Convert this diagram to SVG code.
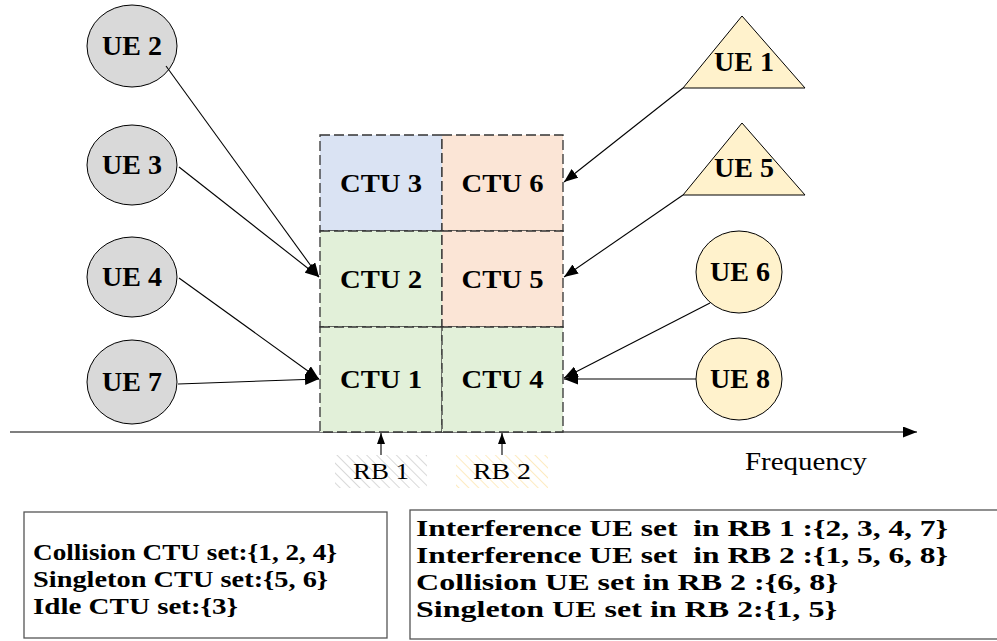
<svg xmlns="http://www.w3.org/2000/svg" width="997" height="641" viewBox="0 0 997 641">
<defs>
<marker id="arr" markerUnits="userSpaceOnUse" markerWidth="15" markerHeight="11" refX="14" refY="5.5" orient="auto">
<path d="M0,0 L14,5.5 L0,11 z" fill="#000"/>
</marker>
<marker id="arrS" markerUnits="userSpaceOnUse" markerWidth="12" markerHeight="10" refX="11" refY="4" orient="auto">
<path d="M0,0 L11,4 L0,8 z" fill="#000"/>
</marker>
<pattern id="hatchGray" patternUnits="userSpaceOnUse" width="7" height="7" patternTransform="rotate(-45)">
<rect width="7" height="7" fill="#fff"/>
<line x1="0" y1="0" x2="0" y2="7" stroke="#c9c9c9" stroke-width="1.4"/>
</pattern>
<pattern id="hatchYel" patternUnits="userSpaceOnUse" width="7" height="7" patternTransform="rotate(-45)">
<rect width="7" height="7" fill="#fff"/>
<line x1="0" y1="0" x2="0" y2="7" stroke="#fde3a6" stroke-width="1.4"/>
</pattern>
</defs>
<style>
text{font-family:Liberation Serif,DejaVu Serif,serif}
.cell{stroke:#333;stroke-width:1.3;stroke-dasharray:10 4}
.blue{fill:#dae3f3}
.peach{fill:#fbe5d6}
.green{fill:#e2f0d9}
.gray{fill:#d9d9d9;stroke:#000;stroke-width:1}
.yel{fill:#fff2cc;stroke:#000;stroke-width:1}
.lbl{font-weight:bold;font-size:28px;text-anchor:middle;fill:#000}
.ctu{font-weight:bold;font-size:26px;text-anchor:middle;fill:#000}
.reg{font-size:24px;fill:#000}
.box{fill:#fff;stroke:#555;stroke-width:1.3}
.set{font-weight:bold;font-size:24px;fill:#000}
.con{stroke:#000;stroke-width:1.1;fill:none}
</style>
<rect width="997" height="641" fill="#fff"/>

<g id="axis">
<line x1="10" y1="432" x2="917" y2="432" class="con" marker-end="url(#arr)"/>
<text x="745" y="470" class="reg" style="font-size:25px" textLength="122" lengthAdjust="spacingAndGlyphs">Frequency</text>
</g>

<g id="ctu3"><rect x="320" y="135" width="122" height="96" class="cell blue"/><text x="381" y="192" class="ctu" textLength="82" lengthAdjust="spacingAndGlyphs">CTU 3</text></g>
<g id="ctu6"><rect x="442" y="135" width="121" height="96" class="cell peach"/><text x="502.5" y="192" class="ctu" textLength="82" lengthAdjust="spacingAndGlyphs">CTU 6</text></g>
<g id="ctu2"><rect x="320" y="231" width="122" height="96" class="cell green"/><text x="381" y="288" class="ctu" textLength="82" lengthAdjust="spacingAndGlyphs">CTU 2</text></g>
<g id="ctu5"><rect x="442" y="231" width="121" height="96" class="cell peach"/><text x="502.5" y="288" class="ctu" textLength="82" lengthAdjust="spacingAndGlyphs">CTU 5</text></g>
<g id="ctu1"><rect x="320" y="327" width="122" height="105" class="cell green"/><text x="381" y="388" class="ctu" textLength="82" lengthAdjust="spacingAndGlyphs">CTU 1</text></g>
<g id="ctu4"><rect x="442" y="327" width="121" height="105" class="cell green"/><text x="502.5" y="388" class="ctu" textLength="82" lengthAdjust="spacingAndGlyphs">CTU 4</text></g>

<g id="rb1"><rect x="335" y="455" width="92" height="33" fill="url(#hatchGray)"/><text x="381" y="479" class="reg" text-anchor="middle" textLength="56" lengthAdjust="spacingAndGlyphs">RB 1</text></g>
<g id="rb2"><rect x="456" y="455" width="92" height="33" fill="url(#hatchYel)"/><text x="502" y="479" class="reg" text-anchor="middle" textLength="58" lengthAdjust="spacingAndGlyphs">RB 2</text></g>

<g id="ue2"><ellipse cx="132" cy="46" rx="45" ry="41" class="gray"/><text x="132" y="55" class="lbl">UE 2</text></g>
<g id="ue3"><ellipse cx="132" cy="165" rx="45" ry="40" class="gray"/><text x="132" y="174" class="lbl">UE 3</text></g>
<g id="ue4"><ellipse cx="132" cy="277" rx="45" ry="40" class="gray"/><text x="132" y="286" class="lbl">UE 4</text></g>
<g id="ue7"><ellipse cx="132" cy="382" rx="45" ry="42" class="gray"/><text x="132" y="391" class="lbl">UE 7</text></g>
<g id="ue1"><polygon points="742,16 805,88 683,88" class="yel"/><text x="744" y="71" class="lbl">UE 1</text></g>
<g id="ue5"><polygon points="742,123 805,195 683,195" class="yel"/><text x="744" y="177" class="lbl">UE 5</text></g>
<g id="ue6"><ellipse cx="739" cy="272" rx="43" ry="41" class="yel"/><text x="740" y="281" class="lbl">UE 6</text></g>
<g id="ue8"><ellipse cx="739" cy="379" rx="43" ry="41" class="yel"/><text x="740" y="388" class="lbl">UE 8</text></g>

<g id="connectors">
<line x1="166" y1="66" x2="319" y2="277" class="con" marker-end="url(#arr)"/>
<line x1="179" y1="167" x2="319" y2="277" class="con" marker-end="url(#arr)"/>
<line x1="179" y1="278" x2="319" y2="379" class="con" marker-end="url(#arr)"/>
<line x1="178" y1="384" x2="319" y2="379" class="con" marker-end="url(#arr)"/>
<line x1="683" y1="88" x2="564" y2="182" class="con" marker-end="url(#arr)"/>
<line x1="683" y1="195" x2="564" y2="277" class="con" marker-end="url(#arr)"/>
<line x1="710" y1="303" x2="564" y2="378" class="con" marker-end="url(#arr)"/>
<line x1="696" y1="379" x2="564" y2="379" class="con" marker-end="url(#arr)"/>
<line x1="381" y1="455" x2="381" y2="433" class="con" marker-end="url(#arrS)"/>
<line x1="502" y1="455" x2="502" y2="433" class="con" marker-end="url(#arrS)"/>
</g>

<g id="ctuSets">
<rect x="24" y="512" width="363" height="126" class="box"/>
<text x="33" y="560" class="set" textLength="304" lengthAdjust="spacingAndGlyphs">Collision CTU set:{1, 2, 4}</text>
<text x="33" y="587" class="set" textLength="295" lengthAdjust="spacingAndGlyphs">Singleton CTU set:{5, 6}</text>
<text x="33" y="614" class="set" textLength="205" lengthAdjust="spacingAndGlyphs">Idle CTU set:{3}</text>
</g>

<g id="ueSets">
<rect x="410" y="510" width="600" height="129" class="box"/>
<text x="416" y="536" class="set" textLength="532" lengthAdjust="spacingAndGlyphs" xml:space="preserve">Interference UE set  in RB 1 :{2, 3, 4, 7}</text>
<text x="416" y="563" class="set" textLength="532" lengthAdjust="spacingAndGlyphs" xml:space="preserve">Interference UE set  in RB 2 :{1, 5, 6, 8}</text>
<text x="416" y="590" class="set" textLength="422" lengthAdjust="spacingAndGlyphs">Collision UE set in RB 2 :{6, 8}</text>
<text x="416" y="617" class="set" textLength="421" lengthAdjust="spacingAndGlyphs">Singleton UE set in RB 2:{1, 5}</text>
</g>
</svg>
